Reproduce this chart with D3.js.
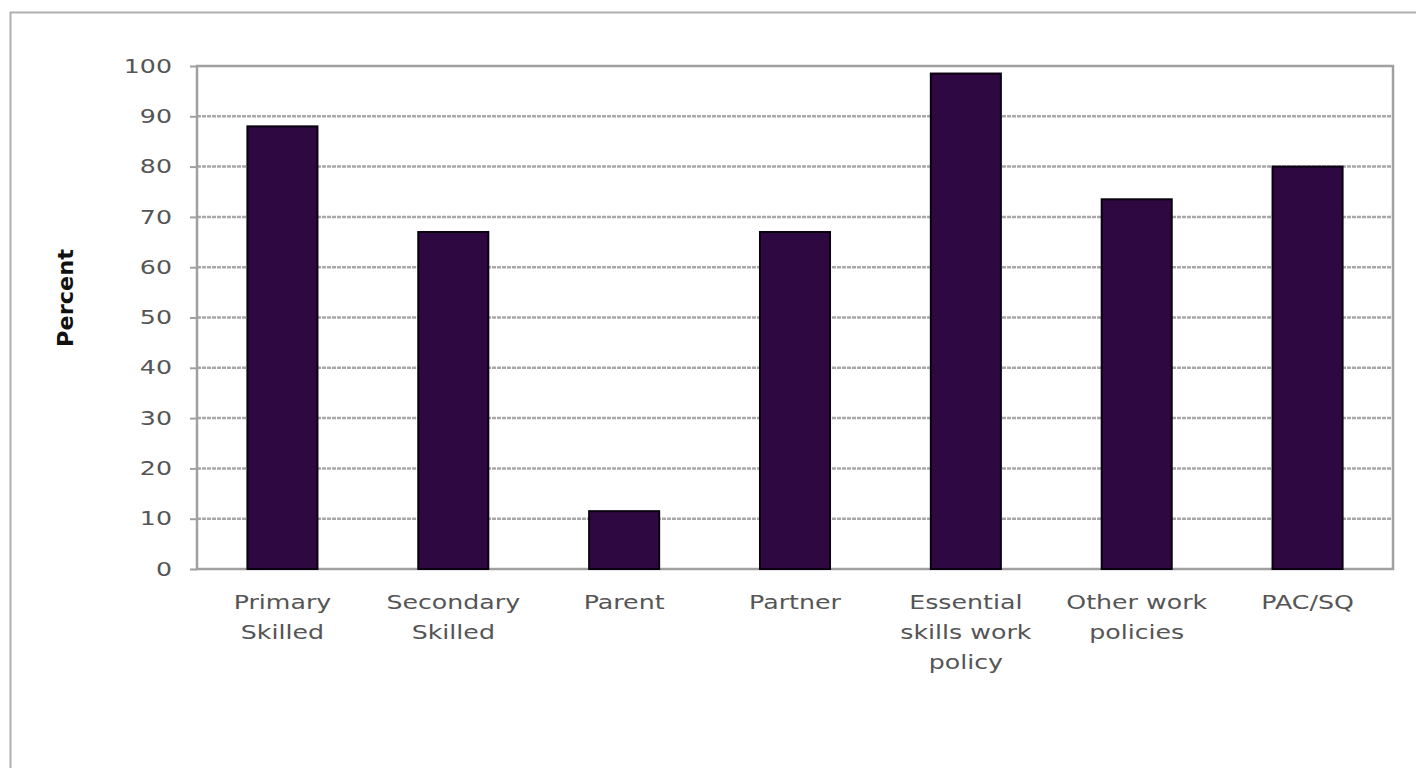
<!DOCTYPE html>
<html><head><meta charset="utf-8">
<script src="https://cdn.jsdelivr.net/npm/d3@7"></script>
<style>body{margin:0;background:#fff;} svg{display:block;}</style>
</head><body>
<script>
const categories = [["Primary","Skilled"],["Secondary","Skilled"],["Parent"],["Partner"],["Essential","skills work","policy"],["Other work","policies"],["PAC/SQ"]];
const values = [88, 67, 11.5, 67, 98.5, 73.5, 80];
const yTicks = [0,10,20,30,40,50,60,70,80,90,100];
const yLabel = "Percent";

const W = 1416, H = 768;
const svg = d3.select("body").append("svg").attr("width", W).attr("height", H);
svg.append("rect").attr("x", 10.5).attr("y", 12.5).attr("width", W + 20).attr("height", H + 20)
  .attr("fill", "#fff").attr("stroke", "#b0b0b0").attr("stroke-width", 2);

const m = {left: 197, top: 66, right: 1393, bottom: 569};
const x = d3.scaleBand().domain(d3.range(categories.length)).range([m.left, m.right])
  .paddingInner(0.59).paddingOuter(0.295);
const y = d3.scaleLinear().domain([0, 100]).range([m.bottom, m.top]);

const font = "'DejaVu Sans', Verdana, sans-serif";
const sx = 1.33;
// gridlines
svg.append("g").selectAll("line").data(yTicks.filter(t => t > 0 && t < 100)).join("line")
  .attr("x1", m.left).attr("x2", m.right).attr("y1", d => y(d)).attr("y2", d => y(d))
  .attr("stroke", "#a8a8a8").attr("stroke-width", 2.5).attr("stroke-dasharray", "4,1");
// plot border
svg.append("rect").attr("x", m.left).attr("y", m.top).attr("width", m.right - m.left).attr("height", m.bottom - m.top)
  .attr("fill", "none").attr("stroke", "#a0a0a0").attr("stroke-width", 2.5);

// y axis
const yAxis = svg.append("g").attr("transform", `translate(${m.left},0)`)
  .call(d3.axisLeft(y).tickValues(yTicks).tickSize(7).tickFormat(""));
yAxis.select(".domain").remove();
yAxis.selectAll("line").attr("stroke", "#a0a0a0").attr("stroke-width", 2);
svg.append("g").selectAll("text").data(yTicks).join("text")
  .attr("transform", d => `translate(172,${y(d)}) scale(${sx},1)`)
  .attr("text-anchor", "end").attr("dy", "0.35em")
  .attr("font-family", font).attr("font-size", 19).attr("fill", "#555").text(d => d);

// bars
svg.append("g").selectAll("rect").data(values).join("rect")
  .attr("x", (d, i) => x(i)).attr("width", x.bandwidth())
  .attr("y", d => y(d)).attr("height", d => y(0) - y(d))
  .attr("fill", "#2e0840").attr("stroke", "#0a0010").attr("stroke-width", 2);

// x labels
const xl = svg.append("g").selectAll("text").data(categories).join("text")
  .attr("text-anchor", "middle").attr("font-family", font).attr("font-size", 19).attr("fill", "#555")
  .attr("transform", (d, i) => `translate(${x(i) + x.bandwidth() / 2},609) scale(${sx},1)`);
xl.selectAll("tspan").data(d => d).join("tspan").attr("x", 0).attr("dy", (d, j) => j === 0 ? 0 : 30).text(d => d);

// y label
svg.append("text").attr("transform", "translate(73,298) rotate(-90) scale(1.18,1.1)").attr("text-anchor", "middle")
  .attr("font-family", font).attr("font-size", 19).attr("font-weight", "bold").attr("fill", "#111").text(yLabel);
</script>
</body></html>
